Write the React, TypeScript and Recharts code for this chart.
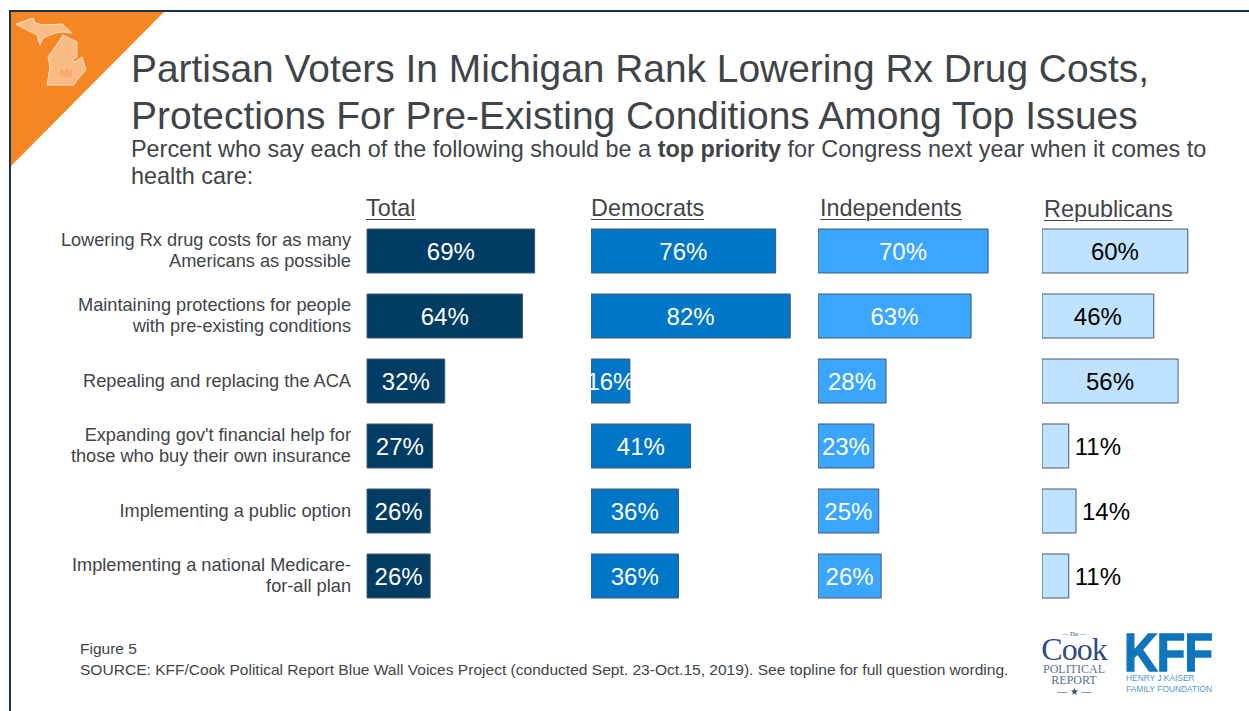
import { Bar, BarChart, LabelList, XAxis, YAxis } from "recharts";

const categories = [
  "Lowering Rx drug costs for as many\nAmericans as possible",
  "Maintaining protections for people\nwith pre-existing conditions",
  "Repealing and replacing the ACA",
  "Expanding gov't financial help for\nthose who buy their own insurance",
  "Implementing a public option",
  "Implementing a national Medicare-\nfor-all plan",
];
const totalValues = [69, 64, 32, 27, 26, 26];
const democratValues = [76, 82, 16, 41, 36, 36];
const independentValues = [70, 63, 28, 23, 25, 26];
const republicanValues = [60, 46, 56, 11, 14, 11];

const FONT = '"Liberation Sans", Arial, sans-serif';
const TEXT = "#3f4448";
const CHART_TOP = 218;
const CHART_H = 390;
const PLOT_W = 243;

function CategoryTick({ x, y, payload }: any) {
  const lines = String(payload.value).split("\n");
  const startY = y - ((lines.length - 1) * 21) / 2 + 6;
  return (
    <text x={x} y={startY} textAnchor="end" fontSize={18.2} fill={TEXT} fontFamily={FONT}>
      {lines.map((line: string, i: number) => (
        <tspan key={i} x={x} dy={i === 0 ? 0 : 21}>
          {line}
        </tspan>
      ))}
    </text>
  );
}

function BarValue({ x, y, width, height, value, fill, outsideBelow }: any) {
  const outside = value < outsideBelow;
  return (
    <text
      x={outside ? x + width + 6 : x + width / 2}
      y={y + height / 2 + 9}
      textAnchor={outside ? "start" : "middle"}
      fontSize={24}
      fill={fill}
      fontFamily={FONT}
    >
      {value}%
    </text>
  );
}

function Panel({ title, values, color, labelColor, plotLeft, showCategories, outsideBelow, headerLeft, headerTop }: any) {
  const rows = categories.map((category, i) => ({ category, value: values[i] }));
  const yWidth = showCategories ? plotLeft - 15 : 0;
  const chartLeft = showCategories ? 16 : plotLeft;
  return (
    <>
      <div
        style={{
          position: "absolute",
          left: headerLeft,
          top: headerTop,
          fontSize: 23.4,
          lineHeight: "28px",
          color: TEXT,
          textDecoration: "underline",
          textDecorationThickness: 1,
          textUnderlineOffset: 3,
        }}
      >
        {title}
      </div>
      <div style={{ position: "absolute", left: chartLeft, top: CHART_TOP }}>
        <BarChart
          width={yWidth + PLOT_W}
          height={CHART_H}
          data={rows}
          layout="vertical"
          margin={{ top: 0, right: 0, bottom: 0, left: 0 }}
          barCategoryGap={0}
          style={{ overflow: "visible" }}
        >
          <XAxis type="number" domain={[0, 100]} hide />
          <YAxis
            type="category"
            dataKey="category"
            width={yWidth}
            hide={!showCategories}
            axisLine={false}
            tickLine={false}
            interval={0}
            tickMargin={0}
            tick={<CategoryTick />}
            tickSize={16}
          />
          <Bar dataKey="value" fill={color} stroke="#46586a" strokeWidth={1} barSize={44} isAnimationActive={false}>
            <LabelList dataKey="value" content={(p: any) => <BarValue {...p} fill={labelColor} outsideBelow={outsideBelow} />} />
          </Bar>
        </BarChart>
      </div>
    </>
  );
}

function Header() {
  return (
    <>
      <div style={{ position: "absolute", left: 9, top: 10, right: 0, height: 2, background: "#17324d" }} />
      <div style={{ position: "absolute", left: 9, top: 10, bottom: 0, width: 2, background: "#17324d" }} />
      <svg width={170} height={170} style={{ position: "absolute", left: 0, top: 0 }}>
        <polygon points="11,12 164,12 11,166" fill="#f68622" />
        <path
          d="M16,24 L33,18 L35,23 L43,25 L62,24 L72,33 L63,32 L55,33 L43,38 L40,45 L37,35 L27,30 Z"
          fill="#fbbb85"
          stroke="#fde3cc"
        />
        <path
          d="M63,35 L77,42 L77,57 L72,60 L75,62 L82,57 L86,70 L77,80 L74,85 L47,85 L50,67 L48,57 L55,47 L58,43 Z"
          fill="#fbbb85"
          stroke="#fde3cc"
        />
        <text x={60} y={77} fontSize={11} fontWeight={700} fill="#f9a35c" fontFamily={FONT}>
          MI
        </text>
      </svg>
      <div style={{ position: "absolute", left: 131, top: 45, fontSize: 38.9, lineHeight: "47px", color: TEXT, whiteSpace: "pre" }}>
        {"Partisan Voters In Michigan Rank Lowering Rx Drug Costs,\nProtections For Pre-Existing Conditions Among Top Issues"}
      </div>
      <div style={{ position: "absolute", left: 131, top: 136, fontSize: 23.4, lineHeight: "27px", color: TEXT, whiteSpace: "pre" }}>
        {"Percent who say each of the following should be a "}
        <b>top priority</b>
        {" for Congress next year when it comes to\nhealth care:"}
      </div>
    </>
  );
}

function Footer() {
  return (
    <>
      <div style={{ position: "absolute", left: 80, top: 640, fontSize: 15.5, lineHeight: "18px", color: TEXT }}>Figure 5</div>
      <div style={{ position: "absolute", left: 80, top: 661, fontSize: 15.55, lineHeight: "18px", color: TEXT, whiteSpace: "pre" }}>
        SOURCE: KFF/Cook Political Report Blue Wall Voices Project (conducted Sept. 23-Oct.15, 2019). See topline for full question wording.
      </div>
      <div style={{ position: "absolute", left: 1029, top: 631, width: 90, textAlign: "center", color: "#2f4d80", fontFamily: '"Liberation Serif", serif' }}>
        <div style={{ fontSize: 6, lineHeight: "6px", fontStyle: "italic" }}>— The —</div>
        <div style={{ fontSize: 32, lineHeight: "25px", letterSpacing: -1 }}>Cook</div>
        <div style={{ fontSize: 12, lineHeight: "11px", marginTop: 2, color: "#5a6f98" }}>POLITICAL</div>
        <div style={{ fontSize: 12, lineHeight: "11px", color: "#5a6f98" }}>REPORT</div>
        <div style={{ fontSize: 10, lineHeight: "11px" }}>— ★ —</div>
      </div>
      <div
        style={{
          position: "absolute",
          left: 1124,
          top: 628,
          color: "#0f75bc",
          fontFamily: FONT,
          fontWeight: 700,
          fontSize: 53,
          lineHeight: "50px",
          letterSpacing: -1,
          transform: "scaleX(0.88)",
          transformOrigin: "left top",
          WebkitTextStroke: "1.5px #0f75bc",
        }}
      >
        KFF
      </div>
      <div style={{ position: "absolute", left: 1126, top: 673, color: "#4f97cc", fontFamily: FONT, fontSize: 8.4, lineHeight: "10.5px", whiteSpace: "pre" }}>
        {"HENRY J KAISER\nFAMILY FOUNDATION"}
      </div>
    </>
  );
}

export default function App() {
  return (
    <div style={{ position: "absolute", left: 0, top: 0, width: 1249, height: 711, overflow: "hidden", background: "#fff", fontFamily: FONT }}>
      <Header />
      <Panel title="Total" values={totalValues} color="#003c64" labelColor="#ffffff" plotLeft={366} showCategories outsideBelow={0} headerLeft={366} headerTop={194} />
      <Panel title="Democrats" values={democratValues} color="#0076c8" labelColor="#ffffff" plotLeft={591} outsideBelow={0} headerLeft={591} headerTop={194} />
      <Panel title="Independents" values={independentValues} color="#3aa6ff" labelColor="#ffffff" plotLeft={818} outsideBelow={0} headerLeft={820} headerTop={194} />
      <Panel title="Republicans" values={republicanValues} color="#bfe3ff" labelColor="#000000" plotLeft={1042} outsideBelow={20} headerLeft={1044} headerTop={195} />
      <Footer />
    </div>
  );
}
